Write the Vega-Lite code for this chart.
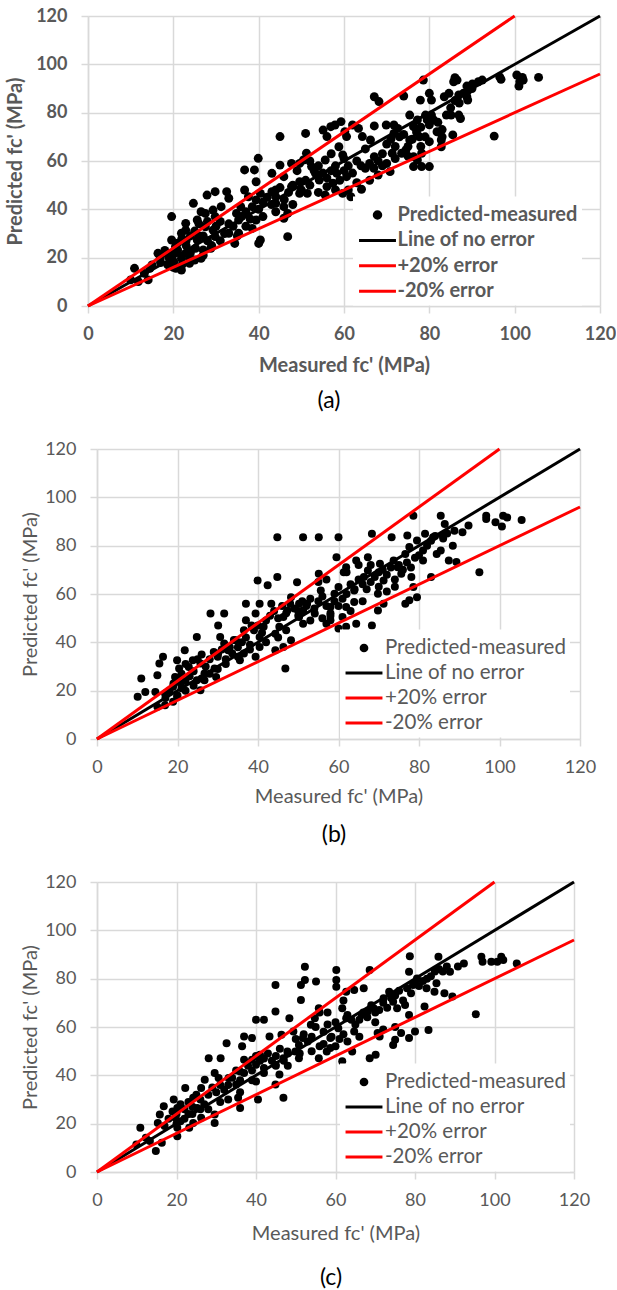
{
  "$schema": "https://vega.github.io/schema/vega-lite/v6.json",
  "padding": {"left": 5, "top": 7, "right": 0, "bottom": 0},
  "spacing": 143,
  "bounds": "flush",
  "resolve": {"scale": {"color": "independent"}, "legend": {"color": "independent"}},
  "config": {
    "font": "Lato",
    "view": {"stroke": null},
    "axis": {
      "grid": true, "gridColor": "#d9d9d9", "gridWidth": 1.5,
      "domainColor": "#d9d9d9", "domainWidth": 1.5,
      "tickColor": "#d9d9d9", "tickWidth": 1.5, "tickSize": 7,
      "labelColor": "#595959", "titleColor": "#595959",
      "labelFlush": false, "labelOverlap": false
    }
  },
  "datasets": {
    "lines": [
      {"series": "Line of no error", "x": 0, "y": 0},
      {"series": "Line of no error", "x": 120, "y": 120},
      {"series": "+20% error", "x": 0, "y": 0},
      {"series": "+20% error", "x": 100, "y": 120},
      {"series": "-20% error", "x": 0, "y": 0},
      {"series": "-20% error", "x": 120, "y": 96}
    ],
    "a": [
      {"m":105.6,"p":94.6},{"m":100.5,"p":95.6},{"m":101.2,"p":92.8},{"m":101.8,"p":94.6},{"m":101,"p":91},{"m":102,"p":93.5},{"m":96.8,"p":93.8},{"m":96.5,"p":94.8},{"m":92.4,"p":93.5},{"m":91.5,"p":92.8},{"m":90.1,"p":91.9},{"m":88.8,"p":91},{"m":88.8,"p":86.6},{"m":89,"p":85.2},{"m":86.5,"p":93.5},{"m":86,"p":94.5},{"m":85.7,"p":92.8},{"m":83.5,"p":86.6},{"m":84.6,"p":88},{"m":86.9,"p":87.3},{"m":78.6,"p":93.5},{"m":74,"p":86.9},{"m":67.1,"p":86.6},{"m":68.2,"p":84.6},{"m":80,"p":88},{"m":80.5,"p":85.2},{"m":77.9,"p":85.2},{"m":75.4,"p":79},{"m":79.1,"p":79},{"m":79.5,"p":77},{"m":80.5,"p":79},{"m":85.1,"p":79},{"m":86.9,"p":79},{"m":87.3,"p":77.6},{"m":85.5,"p":70.8},{"m":95.2,"p":70.3},{"m":81.8,"p":72.1},{"m":82.8,"p":68.7},{"m":82.8,"p":65.9},{"m":77.2,"p":77},{"m":76.3,"p":74.2},{"m":77.7,"p":70},{"m":71.7,"p":74.9},{"m":69.9,"p":74.9},{"m":67.1,"p":74.5},{"m":75.4,"p":68.7},{"m":74.5,"p":64.6},{"m":73.5,"p":63.2},{"m":76.3,"p":61.8},{"m":77.2,"p":60.4},{"m":78.2,"p":63.2},{"m":80,"p":57.7},{"m":78.2,"p":57.7},{"m":76.3,"p":57.7},{"m":71.3,"p":63.2},{"m":70.8,"p":55.6},{"m":71.7,"p":71.4},{"m":72.6,"p":73.5},{"m":68,"p":54.2},{"m":67.1,"p":61.8},{"m":66.2,"p":68.7},{"m":64.3,"p":70.1},{"m":63.4,"p":73.5},{"m":62,"p":74.9},{"m":59.3,"p":76.3},{"m":57.9,"p":74.9},{"m":60.2,"p":72.1},{"m":60.6,"p":70.1},{"m":58.8,"p":65.9},{"m":59.7,"p":62.5},{"m":58.3,"p":54.9},{"m":60.6,"p":53.5},{"m":61.6,"p":45.2},{"m":59.7,"p":46.6},{"m":64.1,"p":48.3},{"m":55.6,"p":60.4},{"m":55.1,"p":72.8},{"m":56.9,"p":74.2},{"m":56,"p":70.1},{"m":51,"p":71.4},{"m":51.2,"p":63.2},{"m":50.5,"p":60.4},{"m":52.4,"p":57.7},{"m":53.3,"p":54.9},{"m":54.2,"p":52.1},{"m":56,"p":49.4},{"m":55.6,"p":45.9},{"m":57.4,"p":50.8},{"m":49.6,"p":51.4},{"m":47.7,"p":49.4},{"m":49.6,"p":46.6},{"m":51.4,"p":46.6},{"m":45,"p":70.1},{"m":45,"p":58.3},{"m":43.1,"p":54.9},{"m":45.9,"p":53.5},{"m":47.7,"p":59},{"m":49.6,"p":59},{"m":43.1,"p":47.3},{"m":44,"p":45.2},{"m":45.9,"p":41.1},{"m":44,"p":42.5},{"m":46.8,"p":38.3},{"m":45.9,"p":36.3},{"m":46.8,"p":28.7},{"m":40.4,"p":46.6},{"m":39.4,"p":43.9},{"m":38.5,"p":41.1},{"m":38.5,"p":32.1},{"m":39.9,"p":61.1},{"m":39,"p":56.3},{"m":36.7,"p":56.3},{"m":39.4,"p":51.4},{"m":36.7,"p":48},{"m":37.6,"p":45.2},{"m":35.8,"p":41.1},{"m":34.8,"p":38.3},{"m":35.3,"p":35.6},{"m":39.4,"p":35.6},{"m":40.4,"p":27.3},{"m":40,"p":25.9},{"m":35.3,"p":30.1},{"m":34.4,"p":25.9},{"m":33,"p":30.1},{"m":32.5,"p":47.3},{"m":29.8,"p":47.3},{"m":27.9,"p":45.9},{"m":33,"p":44.6},{"m":31.2,"p":41.1},{"m":29.3,"p":39.7},{"m":29.8,"p":37},{"m":27.5,"p":38.3},{"m":26.5,"p":39},{"m":25.6,"p":35.6},{"m":24.7,"p":42.5},{"m":27.5,"p":32.8},{"m":29.3,"p":31.4},{"m":29.8,"p":28.7},{"m":22.9,"p":34.2},{"m":22.9,"p":31.4},{"m":21.9,"p":30.1},{"m":19.6,"p":37},{"m":19.6,"p":27.3},{"m":20.5,"p":24.6},{"m":21,"p":23.2},{"m":22.9,"p":21.8},{"m":21.9,"p":19.7},{"m":20.1,"p":18.3},{"m":20.6,"p":15.6},{"m":21.9,"p":14.9},{"m":18.2,"p":21.8},{"m":16.4,"p":21.8},{"m":16.9,"p":19.7},{"m":25.6,"p":27.3},{"m":25.2,"p":23.9},{"m":26.5,"p":19.7},{"m":27,"p":23.2},{"m":28.8,"p":23.9},{"m":23.8,"p":19.7},{"m":23.8,"p":17.7},{"m":15,"p":17},{"m":14.5,"p":15.6},{"m":10.9,"p":15.6},{"m":10,"p":10.8},{"m":11.8,"p":10.1},{"m":14.1,"p":10.8},{"m":18.7,"p":17},{"m":13.2,"p":13.5},
      {"m":19,"p":20},{"m":20,"p":22},{"m":21,"p":26},{"m":22,"p":28},{"m":23,"p":25},{"m":24,"p":22},{"m":24,"p":29},{"m":25,"p":31},{"m":26,"p":34},{"m":27,"p":29},{"m":28,"p":27},{"m":30,"p":33},{"m":31,"p":35},{"m":32,"p":30},{"m":33,"p":34},{"m":34,"p":33},{"m":36,"p":37},{"m":37,"p":39},{"m":38,"p":36},{"m":40,"p":40},{"m":41,"p":43},{"m":42,"p":45},{"m":43,"p":42},{"m":44,"p":48},{"m":46,"p":44},{"m":47,"p":47},{"m":48,"p":50},{"m":50,"p":48},{"m":51,"p":52},{"m":52,"p":50},{"m":53,"p":56},{"m":54,"p":58},{"m":55,"p":55},{"m":56,"p":53},{"m":57,"p":56},{"m":58,"p":58},{"m":59,"p":52},{"m":60,"p":56},{"m":61,"p":58},{"m":62,"p":55},{"m":63,"p":60},{"m":64,"p":58},{"m":65,"p":57},{"m":66,"p":59},{"m":67,"p":57},{"m":68,"p":60},{"m":69,"p":63},{"m":70,"p":67},{"m":71,"p":69},{"m":72,"p":66},{"m":73,"p":70},{"m":74,"p":71},{"m":75,"p":66},{"m":76,"p":69},{"m":77,"p":72},{"m":78,"p":74},{"m":79,"p":70},{"m":80,"p":75},{"m":81,"p":77},{"m":82,"p":76},{"m":83,"p":73},{"m":84,"p":79},{"m":85,"p":82},{"m":86,"p":85},{"m":87,"p":84},{"m":88,"p":88},{"m":89,"p":89},{"m":90,"p":90},{"m":17,"p":18},{"m":18,"p":23},{"m":22,"p":17},{"m":23,"p":27},{"m":26,"p":29},{"m":28,"p":35},{"m":45,"p":49},{"m":49,"p":56},{"m":52,"p":60},{"m":57,"p":63},{"m":60,"p":61},{"m":65,"p":65},{"m":69,"p":58},{"m":72,"p":61},{"m":75,"p":62},{"m":78,"p":66},{"m":80,"p":68},{"m":83,"p":70},{"m":70,"p":59},{"m":66,"p":52},{"m":63,"p":51},{"m":61,"p":48},{"m":58,"p":48},{"m":54,"p":47},{"m":48,"p":42},{"m":44,"p":39},{"m":41,"p":37},{"m":37,"p":33},{"m":35,"p":29},{"m":31,"p":27},{"m":29,"p":25},{"m":27,"p":21},{"m":25,"p":19},{"m":20,"p":16}
    ],
    "b": [
      {"m":105.5,"p":90.6},{"m":100.9,"p":92.4},{"m":101.9,"p":91.7},{"m":100.6,"p":87.9},{"m":99,"p":89.7},{"m":96.7,"p":92.4},{"m":96.7,"p":91},{"m":95,"p":69},{"m":92.3,"p":88.3},{"m":90.8,"p":85.6},{"m":88.8,"p":86.2},{"m":88.4,"p":80},{"m":89.3,"p":73.2},{"m":87.4,"p":73.9},{"m":86.4,"p":89},{"m":85.4,"p":92.4},{"m":78.6,"p":92.4},{"m":85.9,"p":84.2},{"m":83.5,"p":83.5},{"m":81.5,"p":84.9},{"m":79.5,"p":82.1},{"m":85.4,"p":78},{"m":84.4,"p":76.6},{"m":83,"p":67},{"m":81,"p":73.9},{"m":79.5,"p":58.7},{"m":78.6,"p":62.9},{"m":77.6,"p":57.4},{"m":76.6,"p":56},{"m":78.1,"p":67},{"m":75.6,"p":68.4},{"m":74.7,"p":71.1},{"m":73.7,"p":73.9},{"m":76.6,"p":76.6},{"m":77.6,"p":79.4},{"m":77.1,"p":84.2},{"m":73.2,"p":83.5},{"m":68.3,"p":84.9},{"m":70.3,"p":72.5},{"m":71.2,"p":65.6},{"m":69.8,"p":60.1},{"m":69.8,"p":53.2},{"m":71.2,"p":56},{"m":68.3,"p":47},{"m":67.3,"p":75.2},{"m":67.3,"p":69.7},{"m":66.3,"p":67},{"m":64.4,"p":73.9},{"m":61.9,"p":71.1},{"m":61.3,"p":69},{"m":59.5,"p":75.2},{"m":63.9,"p":61.5},{"m":63.9,"p":56.7},{"m":64.4,"p":47.7},{"m":61.9,"p":54.6},{"m":61,"p":50.5},{"m":61.9,"p":46.4},{"m":60,"p":45.7},{"m":60,"p":62.9},{"m":59,"p":60.1},{"m":58,"p":54.6},{"m":58,"p":49.1},{"m":57,"p":47.7},{"m":55.6,"p":61.5},{"m":55.1,"p":68.4},{"m":54.1,"p":51.9},{"m":52.2,"p":56},{"m":51.2,"p":53.2},{"m":50.2,"p":50.5},{"m":51.2,"p":47.7},{"m":49.7,"p":64.9},{"m":48.2,"p":58.7},{"m":50.2,"p":56},{"m":47.3,"p":53.2},{"m":46.3,"p":50.5},{"m":45.3,"p":46.4},{"m":44.3,"p":43.6},{"m":44.8,"p":83.5},{"m":51.2,"p":83.5},{"m":55.1,"p":83.5},{"m":60,"p":83.5},{"m":44.8,"p":67},{"m":39.9,"p":65.6},{"m":42.4,"p":63.6},{"m":48.2,"p":40.9},{"m":46.3,"p":38.1},{"m":44.3,"p":36.7},{"m":46.8,"p":29.2},{"m":43.3,"p":56},{"m":40.4,"p":56},{"m":39.4,"p":51.9},{"m":37,"p":56},{"m":38.4,"p":47},{"m":36.5,"p":45},{"m":37,"p":49.1},{"m":41.4,"p":46.4},{"m":40.4,"p":42.2},{"m":40.4,"p":38.1},{"m":39.4,"p":34},{"m":36.5,"p":35.4},{"m":34.5,"p":40.9},{"m":33.6,"p":35.4},{"m":35.5,"p":32.6},{"m":31.6,"p":51.9},{"m":28.2,"p":51.9},{"m":30.1,"p":47},{"m":30.6,"p":42.2},{"m":31.6,"p":39.5},{"m":32.6,"p":36.7},{"m":30.1,"p":35.4},{"m":29.2,"p":29.2},{"m":29.6,"p":25.7},{"m":26.7,"p":27.1},{"m":24.8,"p":42.2},{"m":21.8,"p":36.7},{"m":23.8,"p":32.6},{"m":22.8,"p":29.8},{"m":25.7,"p":31.2},{"m":24.8,"p":24.3},{"m":25.7,"p":20.2},{"m":26.7,"p":24.3},{"m":19.9,"p":32.6},{"m":20.4,"p":29.2},{"m":19.4,"p":25.7},{"m":20.8,"p":23},{"m":18.9,"p":21.6},{"m":19.9,"p":17.5},{"m":18.9,"p":15.4},{"m":16.4,"p":34},{"m":15.5,"p":31.2},{"m":15,"p":26.4},{"m":16.9,"p":18.8},{"m":16.9,"p":14},{"m":15,"p":13.3},{"m":14.5,"p":19.5},{"m":12,"p":19.5},{"m":11,"p":25},{"m":10.1,"p":17.5},
      {"m":18,"p":20},{"m":19,"p":23},{"m":20,"p":25},{"m":21,"p":21},{"m":21,"p":27},{"m":22,"p":24},{"m":23,"p":26},{"m":22,"p":31},{"m":24,"p":28},{"m":25,"p":33},{"m":26,"p":35},{"m":27,"p":30},{"m":28,"p":33},{"m":29,"p":36},{"m":30,"p":34},{"m":31,"p":37},{"m":32,"p":33},{"m":33,"p":38},{"m":34,"p":41},{"m":35,"p":38},{"m":36,"p":40},{"m":37,"p":42},{"m":38,"p":39},{"m":39,"p":45},{"m":40,"p":47},{"m":41,"p":44},{"m":42,"p":49},{"m":43,"p":51},{"m":44,"p":53},{"m":45,"p":50},{"m":46,"p":55},{"m":47,"p":52},{"m":48,"p":56},{"m":49,"p":54},{"m":50,"p":53},{"m":51,"p":57},{"m":52,"p":55},{"m":53,"p":58},{"m":54,"p":54},{"m":55,"p":57},{"m":56,"p":59},{"m":57,"p":55},{"m":58,"p":52},{"m":59,"p":57},{"m":60,"p":55},{"m":61,"p":58},{"m":62,"p":60},{"m":63,"p":64},{"m":64,"p":62},{"m":65,"p":66},{"m":66,"p":64},{"m":67,"p":62},{"m":68,"p":65},{"m":69,"p":67},{"m":70,"p":69},{"m":71,"p":70},{"m":72,"p":68},{"m":73,"p":71},{"m":74,"p":66},{"m":75,"p":72},{"m":76,"p":70},{"m":77,"p":73},{"m":78,"p":71},{"m":79,"p":75},{"m":80,"p":76},{"m":81,"p":78},{"m":82,"p":80},{"m":83,"p":82},{"m":84,"p":84},{"m":86,"p":83},{"m":87,"p":85},{"m":74,"p":63},{"m":72,"p":61},{"m":70,"p":63},{"m":66,"p":57},{"m":63,"p":53},{"m":58,"p":51},{"m":56,"p":50},{"m":53,"p":49},{"m":50,"p":51},{"m":47,"p":45},{"m":45,"p":42},{"m":42,"p":40},{"m":38,"p":37},{"m":35,"p":34},{"m":32,"p":31},{"m":30,"p":29},{"m":28,"p":27},{"m":26,"p":25},{"m":24,"p":22},{"m":22,"p":20},{"m":20,"p":18},{"m":17,"p":17},{"m":55,"p":65},{"m":57,"p":66},{"m":62,"p":69},{"m":65,"p":72},{"m":68,"p":72}
    ],
    "c": [
      {"m":105.6,"p":86.3},{"m":101.7,"p":89.1},{"m":100.7,"p":87},{"m":102.2,"p":87.7},{"m":99.2,"p":87},{"m":96.7,"p":89.1},{"m":97,"p":87},{"m":95.3,"p":65.3},{"m":92.3,"p":86.3},{"m":90.8,"p":85},{"m":88.8,"p":82.9},{"m":89.4,"p":72.6},{"m":87.4,"p":74},{"m":85.9,"p":89.1},{"m":78.7,"p":89.3},{"m":68.6,"p":83.6},{"m":85.4,"p":78.1},{"m":84.9,"p":74.6},{"m":82.9,"p":76},{"m":82.4,"p":68.5},{"m":83.4,"p":58.8},{"m":80,"p":58.1},{"m":78.5,"p":55.4},{"m":74.5,"p":52.6},{"m":75,"p":54.7},{"m":76.5,"p":57.5},{"m":78.5,"p":65},{"m":77.5,"p":69.1},{"m":75.5,"p":67.8},{"m":80.5,"p":80.1},{"m":78.5,"p":82.9},{"m":79.5,"p":77.4},{"m":73.5,"p":74.6},{"m":72.1,"p":71.9},{"m":74.5,"p":70.5},{"m":70.6,"p":57.5},{"m":71.1,"p":56.1},{"m":70.1,"p":48.5},{"m":68.6,"p":47.1},{"m":69.6,"p":67.8},{"m":68.1,"p":66.4},{"m":66.6,"p":65},{"m":67.1,"p":76},{"m":64.7,"p":75.3},{"m":62.7,"p":74.6},{"m":60.2,"p":83.6},{"m":60.2,"p":79.5},{"m":60.2,"p":76.7},{"m":64.7,"p":58.1},{"m":64.2,"p":49.9},{"m":61.7,"p":45.8},{"m":62.7,"p":63.6},{"m":61.7,"p":67.8},{"m":60.7,"p":59.5},{"m":58.7,"p":55.4},{"m":57.8,"p":49.9},{"m":55.8,"p":47.1},{"m":58.7,"p":51.3},{"m":52.3,"p":84.9},{"m":52.3,"p":79.5},{"m":51.3,"p":77.4},{"m":51.3,"p":71.2},{"m":55.1,"p":78.8},{"m":44.9,"p":77.4},{"m":44.9,"p":66.4},{"m":42,"p":63},{"m":40,"p":63},{"m":48.4,"p":63.6},{"m":46.4,"p":56.8},{"m":49.4,"p":58.1},{"m":55.8,"p":67.8},{"m":54.8,"p":63.6},{"m":53.8,"p":60.9},{"m":51.8,"p":55.4},{"m":50.8,"p":52.6},{"m":49.9,"p":49.9},{"m":50.8,"p":47.1},{"m":47.9,"p":49.9},{"m":46.9,"p":47.1},{"m":44.9,"p":44.4},{"m":45.9,"p":40.3},{"m":44.9,"p":36.2},{"m":46.9,"p":30.7},{"m":43.4,"p":56.1},{"m":39,"p":55.4},{"m":37,"p":56.1},{"m":36.5,"p":52},{"m":39,"p":46.5},{"m":37,"p":46.5},{"m":41,"p":48.5},{"m":42,"p":43},{"m":40,"p":44.4},{"m":40,"p":37.5},{"m":40.5,"p":30},{"m":36,"p":41.6},{"m":35,"p":36.2},{"m":35.5,"p":30.7},{"m":36,"p":26.5},{"m":32.6,"p":53.3},{"m":28.1,"p":47.1},{"m":31.1,"p":47.1},{"m":29.6,"p":41},{"m":30.6,"p":38.9},{"m":33.1,"p":38.9},{"m":29.6,"p":23.8},{"m":29.6,"p":20.3},{"m":27.1,"p":38.2},{"m":26.2,"p":34.8},{"m":22.2,"p":34.8},{"m":24.2,"p":30.7},{"m":25.2,"p":26.5},{"m":26.2,"p":22.4},{"m":24.2,"p":20.3},{"m":23.2,"p":18.3},{"m":19.3,"p":30},{"m":20.2,"p":26.5},{"m":19.7,"p":22.4},{"m":20.2,"p":18.3},{"m":20.2,"p":14.8},{"m":16.8,"p":27.2},{"m":15.8,"p":23.8},{"m":15.3,"p":20.3},{"m":16.3,"p":12.1},{"m":14.8,"p":8.7},{"m":13.3,"p":12.8},{"m":10.9,"p":18.3},{"m":9.9,"p":11.4},{"m":12.3,"p":14.2},
      {"m":18,"p":22},{"m":19,"p":25},{"m":20,"p":24},{"m":21,"p":28},{"m":21,"p":21},{"m":22,"p":26},{"m":23,"p":24},{"m":23,"p":29},{"m":24,"p":27},{"m":25,"p":32},{"m":26,"p":30},{"m":27,"p":28},{"m":28,"p":32},{"m":29,"p":35},{"m":30,"p":33},{"m":31,"p":36},{"m":32,"p":34},{"m":33,"p":36},{"m":34,"p":39},{"m":35,"p":42},{"m":36,"p":38},{"m":37,"p":41},{"m":38,"p":44},{"m":39,"p":42},{"m":40,"p":48},{"m":41,"p":46},{"m":42,"p":47},{"m":43,"p":49},{"m":44,"p":46},{"m":45,"p":48},{"m":46,"p":51},{"m":47,"p":46},{"m":48,"p":49},{"m":50,"p":55},{"m":52,"p":57},{"m":53,"p":54},{"m":54,"p":56},{"m":55,"p":60},{"m":56,"p":52},{"m":57,"p":58},{"m":58,"p":61},{"m":59,"p":56},{"m":60,"p":62},{"m":61,"p":55},{"m":62,"p":57},{"m":63,"p":65},{"m":64,"p":63},{"m":65,"p":61},{"m":66,"p":63},{"m":67,"p":66},{"m":68,"p":64},{"m":69,"p":69},{"m":70,"p":66},{"m":71,"p":67},{"m":72,"p":70},{"m":73,"p":68},{"m":74,"p":72},{"m":75,"p":73},{"m":76,"p":75},{"m":77,"p":71},{"m":78,"p":76},{"m":79,"p":74},{"m":80,"p":78},{"m":81,"p":77},{"m":82,"p":79},{"m":83,"p":80},{"m":84,"p":81},{"m":85,"p":83},{"m":86,"p":84},{"m":87,"p":83},{"m":88,"p":85},{"m":70,"p":62},{"m":72,"p":59},{"m":75,"p":60},{"m":66,"p":56},{"m":63,"p":54},{"m":60,"p":52},{"m":57,"p":53},{"m":54,"p":50},{"m":51,"p":49},{"m":48,"p":44},{"m":45,"p":44},{"m":42,"p":41},{"m":39,"p":38},{"m":36,"p":33},{"m":33,"p":30},{"m":31,"p":29},{"m":28,"p":26},{"m":26,"p":26},{"m":24,"p":24},{"m":22,"p":22},{"m":20,"p":20},{"m":17,"p":19},{"m":56,"p":66},{"m":58,"p":66},{"m":62,"p":71}
    ]
  },
  "vconcat": [
    {
      "width": 512, "height": 290,
      "title": {"text": "(a)", "orient": "bottom", "anchor": "middle", "offset": 15, "dx": -15, "fontSize": 23, "fontWeight": "normal", "color": "black", "font": "Lato"},
      "layer": [
        {
          "data": {"name": "a"},
          "mark": {"type": "point", "filled": true, "color": "black", "opacity": 1, "size": 80},
          "encoding": {
            "x": {"field": "m", "type": "quantitative", "scale": {"domain": [0, 120], "nice": false},
                  "axis": {"values": [0, 20, 40, 60, 80, 100, 120], "title": "Measured fc' (MPa)", "labelFontSize": 18, "labelFontWeight": "bold", "labelPadding": 12, "titleFontSize": 20, "titleFontWeight": "bold", "titlePadding": 12}},
            "y": {"field": "p", "type": "quantitative", "scale": {"domain": [0, 120], "nice": false},
                  "axis": {"values": [0, 20, 40, 60, 80, 100, 120], "title": "Predicted fc' (MPa)", "labelFontSize": 18, "labelFontWeight": "bold", "labelPadding": 14, "titleFontSize": 20, "titleFontWeight": "bold", "titlePadding": 10}}
          }
        },
        {
          "data": {"name": "lines"},
          "mark": {"type": "line", "strokeWidth": 3},
          "encoding": {
            "x": {"field": "x", "type": "quantitative"},
            "y": {"field": "y", "type": "quantitative"},
            "color": {"field": "series", "type": "nominal",
              "scale": {"domain": ["Predicted-measured", "Line of no error", "+20% error", "-20% error"], "range": ["black", "black", "red", "red"]},
              "legend": {"title": null, "orient": "none", "legendX": 265, "legendY": 180.5, "fillColor": "white", "padding": 4,
                "labelFont": "Lato", "labelFontSize": 20, "labelFontWeight": "bold", "labelColor": "#595959", "labelLimit": 400, "labelOffset": 5.5, "symbolOffset": 6, "rowPadding": 0.4,
                "symbolType": "stroke", "symbolSize": 676, "symbolStrokeWidth": 3,
                "encode": {"symbols": {"update": {
                  "shape": {"signal": "datum.value === 'Predicted-measured' ? 'M-0.25,0A0.25,0.25,0,1,0,0.25,0A0.25,0.25,0,1,0,-0.25,0Z' : 'M-1.42,0L1.42,0'"},
                  "size": {"value": 676},
                  "fill": {"signal": "datum.value === 'Predicted-measured' ? 'black' : 'transparent'"},
                  "stroke": {"signal": "datum.value === '+20% error' || datum.value === '-20% error' ? 'red' : 'black'"},
                  "strokeWidth": {"value": 3},
                  "opacity": {"value": 1}
                }}}
              }}
          }
        }
      ]
    },
    {
      "width": 492, "height": 290,
      "title": {"text": "(b)", "orient": "bottom", "anchor": "middle", "offset": 18, "fontSize": 23, "fontWeight": "normal", "color": "black", "font": "Lato"},
      "layer": [
        {
          "data": {"name": "b"},
          "mark": {"type": "point", "filled": true, "color": "black", "opacity": 1, "size": 64},
          "encoding": {
            "x": {"field": "m", "type": "quantitative", "scale": {"domain": [0, 120], "nice": false, "range": [9, 492]},
                  "axis": {"values": [0, 20, 40, 60, 80, 100, 120], "title": "Measured fc' (MPa)", "labelFontSize": 18, "labelPadding": 12, "titleFontSize": 20, "titlePadding": 10, "titleFontWeight": "normal"}},
            "y": {"field": "p", "type": "quantitative", "scale": {"domain": [0, 120], "nice": false},
                  "axis": {"values": [0, 20, 40, 60, 80, 100, 120], "title": "Predicted fc' (MPa)", "offset": -9, "labelFontSize": 18, "labelPadding": 14, "titleFontSize": 20, "titlePadding": 4, "titleFontWeight": "normal"}}
          }
        },
        {
          "data": {"name": "lines"},
          "mark": {"type": "line", "strokeWidth": 3},
          "encoding": {
            "x": {"field": "x", "type": "quantitative"},
            "y": {"field": "y", "type": "quantitative"},
            "color": {"field": "series", "type": "nominal",
              "scale": {"domain": ["Predicted-measured", "Line of no error", "+20% error", "-20% error"], "range": ["black", "black", "red", "red"]},
              "legend": {"title": null, "orient": "none", "legendX": 252, "legendY": 180.5, "fillColor": "white", "padding": 4,
                "labelFont": "Lato", "labelFontSize": 20.5, "labelFontWeight": "normal", "labelColor": "#595959", "labelLimit": 400, "labelOffset": 6.5, "symbolOffset": 5.5, "rowPadding": 0,
                "symbolType": "stroke", "symbolSize": 676, "symbolStrokeWidth": 3,
                "encode": {"symbols": {"update": {
                  "shape": {"signal": "datum.value === 'Predicted-measured' ? 'M-0.22,0A0.22,0.22,0,1,0,0.22,0A0.22,0.22,0,1,0,-0.22,0Z' : 'M-1.42,0L1.42,0'"},
                  "size": {"value": 676},
                  "fill": {"signal": "datum.value === 'Predicted-measured' ? 'black' : 'transparent'"},
                  "stroke": {"signal": "datum.value === '+20% error' || datum.value === '-20% error' ? 'red' : 'black'"},
                  "strokeWidth": {"value": 3},
                  "opacity": {"value": 1}
                }}}
              }}
          }
        }
      ]
    },
    {
      "width": 486, "height": 290,
      "title": {"text": "(c)", "orient": "bottom", "anchor": "middle", "offset": 24, "fontSize": 23, "fontWeight": "normal", "color": "black", "font": "Lato"},
      "layer": [
        {
          "data": {"name": "c"},
          "mark": {"type": "point", "filled": true, "color": "black", "opacity": 1, "size": 64},
          "encoding": {
            "x": {"field": "m", "type": "quantitative", "scale": {"domain": [0, 120], "nice": false, "range": [9, 486]},
                  "axis": {"values": [0, 20, 40, 60, 80, 100, 120], "title": "Measured fc' (MPa)", "labelFontSize": 18, "labelPadding": 12, "titleFontSize": 20, "titlePadding": 14, "titleFontWeight": "normal"}},
            "y": {"field": "p", "type": "quantitative", "scale": {"domain": [0, 120], "nice": false},
                  "axis": {"values": [0, 20, 40, 60, 80, 100, 120], "title": "Predicted fc' (MPa)", "offset": -9, "labelFontSize": 18, "labelPadding": 14, "titleFontSize": 20, "titlePadding": 4, "titleFontWeight": "normal"}}
          }
        },
        {
          "data": {"name": "lines"},
          "mark": {"type": "line", "strokeWidth": 3},
          "encoding": {
            "x": {"field": "x", "type": "quantitative"},
            "y": {"field": "y", "type": "quantitative"},
            "color": {"field": "series", "type": "nominal",
              "scale": {"domain": ["Predicted-measured", "Line of no error", "+20% error", "-20% error"], "range": ["black", "black", "red", "red"]},
              "legend": {"title": null, "orient": "none", "legendX": 252, "legendY": 181.5, "fillColor": "white", "padding": 4,
                "labelFont": "Lato", "labelFontSize": 20.5, "labelFontWeight": "normal", "labelColor": "#595959", "labelLimit": 400, "labelOffset": 6.5, "symbolOffset": 5.5, "rowPadding": 0,
                "symbolType": "stroke", "symbolSize": 676, "symbolStrokeWidth": 3,
                "encode": {"symbols": {"update": {
                  "shape": {"signal": "datum.value === 'Predicted-measured' ? 'M-0.22,0A0.22,0.22,0,1,0,0.22,0A0.22,0.22,0,1,0,-0.22,0Z' : 'M-1.42,0L1.42,0'"},
                  "size": {"value": 676},
                  "fill": {"signal": "datum.value === 'Predicted-measured' ? 'black' : 'transparent'"},
                  "stroke": {"signal": "datum.value === '+20% error' || datum.value === '-20% error' ? 'red' : 'black'"},
                  "strokeWidth": {"value": 3},
                  "opacity": {"value": 1}
                }}}
              }}
          }
        }
      ]
    }
  ]
}
